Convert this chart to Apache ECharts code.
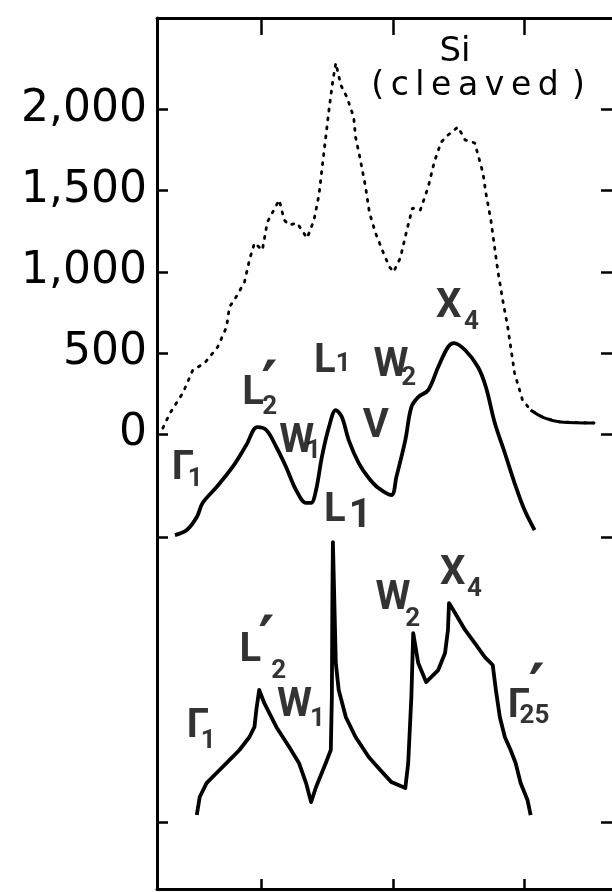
<!DOCTYPE html>
<html>
<head>
<meta charset="utf-8">
<script src="https://cdn.jsdelivr.net/npm/echarts/dist/echarts.min.js"></script>
<style>
html,body{margin:0;padding:0;background:#fff;}
#chart{width:612px;height:892px;}
</style>
</head>
<body>
<div id="chart"></div>
<script>
// ---- data (energy in eV, intensity in counts) ----
const energyExp = [-13.74,-13.47,-12.98,-12.60,-12.15,-11.66,-11.32,-11.21,-10.91,-10.64,-10.45,-10.26,-9.96,-9.77,-9.32,-9.13,-8.94,-8.64,-8.26,-8.00,-7.81,-7.70,-7.43,-7.28,-7.17,-6.98,-6.75,-6.49,-6.42,-6.26,-6.04,-5.89,-5.66,-5.36,-5.13,-4.98,-4.72,-4.49,-4.26,-3.96,-3.66,-3.43,-3.17,-2.91,-2.53,-2.26,-1.89,-1.58,-1.47,-1.28,-1.02,-0.83,-0.64,-0.38,-0.08,0.23,0.75,1.36,2.64];
const countsExp = [37,129,253,395,438,536,660,783,857,937,1073,1178,1134,1307,1443,1319,1289,1301,1208,1319,1473,1628,1998,2182,2287,2152,2078,1954,1831,1708,1523,1363,1239,1116,1030,999,1085,1245,1393,1381,1523,1677,1800,1843,1893,1813,1794,1609,1486,1319,1011,826,660,376,210,148,99,74,68];

const energyBroad = [-13.28,-12.83,-12.45,-12.23,-11.70,-11.09,-10.57,-10.15,-9.81,-9.43,-9.06,-8.68,-8.30,-8.11,-7.92,-7.70,-7.43,-7.17,-6.94,-6.68,-6.30,-5.92,-5.55,-5.06,-4.87,-4.53,-4.30,-4.04,-3.66,-3.28,-2.91,-2.68,-2.26,-1.77,-1.47,-1.13,-0.75,-0.38,0.00,0.38];
const dosBroad = [-623,-592,-512,-425,-327,-203,-68,43,25,-80,-203,-345,-425,-425,-345,-142,43,148,105,-37,-179,-271,-333,-376,-265,-37,166,228,271,413,536,561,518,413,290,68,-117,-302,-469,-592];

const energyCalc = [-12.45,-12.34,-12.08,-11.70,-11.21,-10.83,-10.45,-10.26,-10.19,-10.08,-9.89,-9.43,-8.94,-8.57,-8.30,-8.11,-7.92,-7.55,-7.36,-7.32,-7.30,-7.28,-7.23,-7.17,-7.06,-6.79,-6.42,-5.92,-5.55,-5.06,-4.53,-4.42,-4.30,-4.23,-4.04,-3.74,-3.28,-3.02,-2.91,-2.87,-2.64,-2.26,-1.89,-1.51,-1.21,-1.09,-0.94,-0.75,-0.53,-0.34,-0.15,0.11,0.23];
const dosCalc = [-2349,-2238,-2152,-2090,-2010,-1948,-1868,-1806,-1702,-1578,-1658,-1806,-1930,-2028,-2152,-2269,-2176,-2028,-1948,-1621,-1005,-666,-1005,-1412,-1578,-1745,-1868,-1991,-2059,-2146,-2183,-2028,-1621,-1227,-1412,-1529,-1455,-1350,-1208,-1042,-1104,-1208,-1289,-1375,-1424,-1578,-1745,-1868,-1948,-2028,-2152,-2256,-2349];

const yTickLabels = [0, 500, 1000, 1500, 2000];
const yTickMarks = [-2392, -635, 0, 500, 1000, 1500, 2000];
const xTickMarks = [-10, -5, 0];

// critical-point annotations (anchor = top-left of glyph, in data units)
const mainText = ['Γ','L','W','L','W','V','X','L','1','L','W','Γ','W','X','Γ'];
const mainE    = [-13.40,-10.72,-9.32,-8.00,-5.74,-6.15,-3.36,-7.62,-6.68,-10.83,-9.40,-12.83,-5.66,-3.21,-0.64];
const mainC    = [-129,333,37,530,506,129,869,-388,-425,-1252,-1591,-1720,-931,-777,-1597];

const subText = ['1','2','1','1','2','4','2','1','1','2','4','25'];
const subE    = [-12.79,-9.96,-8.30,-7.17,-4.68,-2.30,-9.62,-8.15,-12.30,-4.53,-2.19,-0.19];
const subC    = [-222,222,-55,487,395,746,-1406,-1702,-1843,-1085,-900,-1683];

const primeE = [-9.89,-10.00,0.26];
const primeC = [395,-1178,-1474];

const title1 = 'Si';
const title2 = '(\u2009c\u2009l\u2009e\u2009a\u2009v\u2009e\u2009d\u2009\u2009)';

// ---- chart ----
const zip = (xs, ys) => xs.map((x, i) => [x, ys[i]]);
const annot = (txt, es, cs) => txt.map((t, i) => ({ name: t, value: [es[i], cs[i]] }));
const tailFrom = energyExp.findIndex(e => e >= 0);

const chart = echarts.init(document.getElementById('chart'), null, { renderer: 'canvas' });

const xBase = {
  type: 'value', min: -13.962, max: 3.321,
  axisLine: { show: true, onZero: false, lineStyle: { color: '#000', width: 3 } },
  axisTick: { show: true, inside: true, customValues: xTickMarks, lineStyle: { color: '#000', width: 2.5 } },
  axisLabel: { show: false },
  splitLine: { show: false }
};
const yBase = {
  type: 'value', min: -2805, max: 2565,
  axisLine: { show: true, onZero: false, lineStyle: { color: '#000', width: 3 } },
  axisTick: { show: true, inside: true, length: 11, customValues: yTickMarks, lineStyle: { color: '#000', width: 2.5 } },
  splitLine: { show: false }
};

const labelCommon = {
  show: true, position: 'inside', align: 'left', verticalAlign: 'top',
  formatter: '{b}', color: '#000', fontFamily: 'Roboto', fontWeight: 'bold'
};

chart.setOption({
  animation: false,
  backgroundColor: '#fff',
  grid: { left: 157, top: 18, width: 458, height: 871, show: false },
  xAxis: [
    Object.assign({}, xBase, { position: 'bottom', axisTick: Object.assign({}, xBase.axisTick, { length: 10 }) }),
    Object.assign({}, xBase, { position: 'top', axisTick: Object.assign({}, xBase.axisTick, { length: 17 }) })
  ],
  yAxis: [
    Object.assign({}, yBase, {
      position: 'left',
      axisLabel: {
        show: true, customValues: yTickLabels, margin: 10,
        fontFamily: 'DejaVu Sans', fontSize: 44, color: '#000',
        formatter: v => v.toLocaleString('en-US')
      }
    }),
    Object.assign({}, yBase, { position: 'right', axisLine: { show: false, onZero: false }, axisLabel: { show: false } })
  ],
  graphic: [
    { type: 'text', x: 455, y: 35, style: { text: title1, font: '34px "DejaVu Sans"', fill: '#000', align: 'center', verticalAlign: 'top' } },
    { type: 'text', x: 478, y: 70, style: { text: title2, font: '33px "DejaVu Sans"', fill: '#000', align: 'center', verticalAlign: 'top' } }
  ],
  series: [
    { type: 'line', data: zip(energyExp, countsExp), showSymbol: false, silent: true,
      lineStyle: { color: '#000', width: 2.8, type: [2, 7], cap: 'round' } },
    { type: 'line', data: zip(energyExp.slice(tailFrom), countsExp.slice(tailFrom)), showSymbol: false, silent: true, smooth: 0.4,
      lineStyle: { color: '#000', width: 3 } },
    { type: 'line', data: zip(energyBroad, dosBroad), showSymbol: false, silent: true, smooth: 0.35,
      lineStyle: { color: '#000', width: 3.8 } },
    { type: 'line', data: zip(energyCalc, dosCalc), showSymbol: false, silent: true,
      lineStyle: { color: '#000', width: 3.8, join: 'round' } },
    { type: 'scatter', symbolSize: 0, silent: true, data: annot(mainText, mainE, mainC),
      label: Object.assign({}, labelCommon, { fontSize: 40, offset: [0, -6] }) },
    { type: 'scatter', symbolSize: 0, silent: true, data: annot(subText, subE, subC),
      label: Object.assign({}, labelCommon, { fontSize: 26, offset: [0, -4] }) },
    { type: 'scatter', symbolSize: 0, silent: true, data: annot(primeE.map(() => '\u2032'), primeE, primeC),
      label: Object.assign({}, labelCommon, { fontSize: 62, fontFamily: 'DejaVu Sans', fontWeight: 'bold', offset: [-3, -12] }) }
  ]
});
</script>
</body>
</html>
